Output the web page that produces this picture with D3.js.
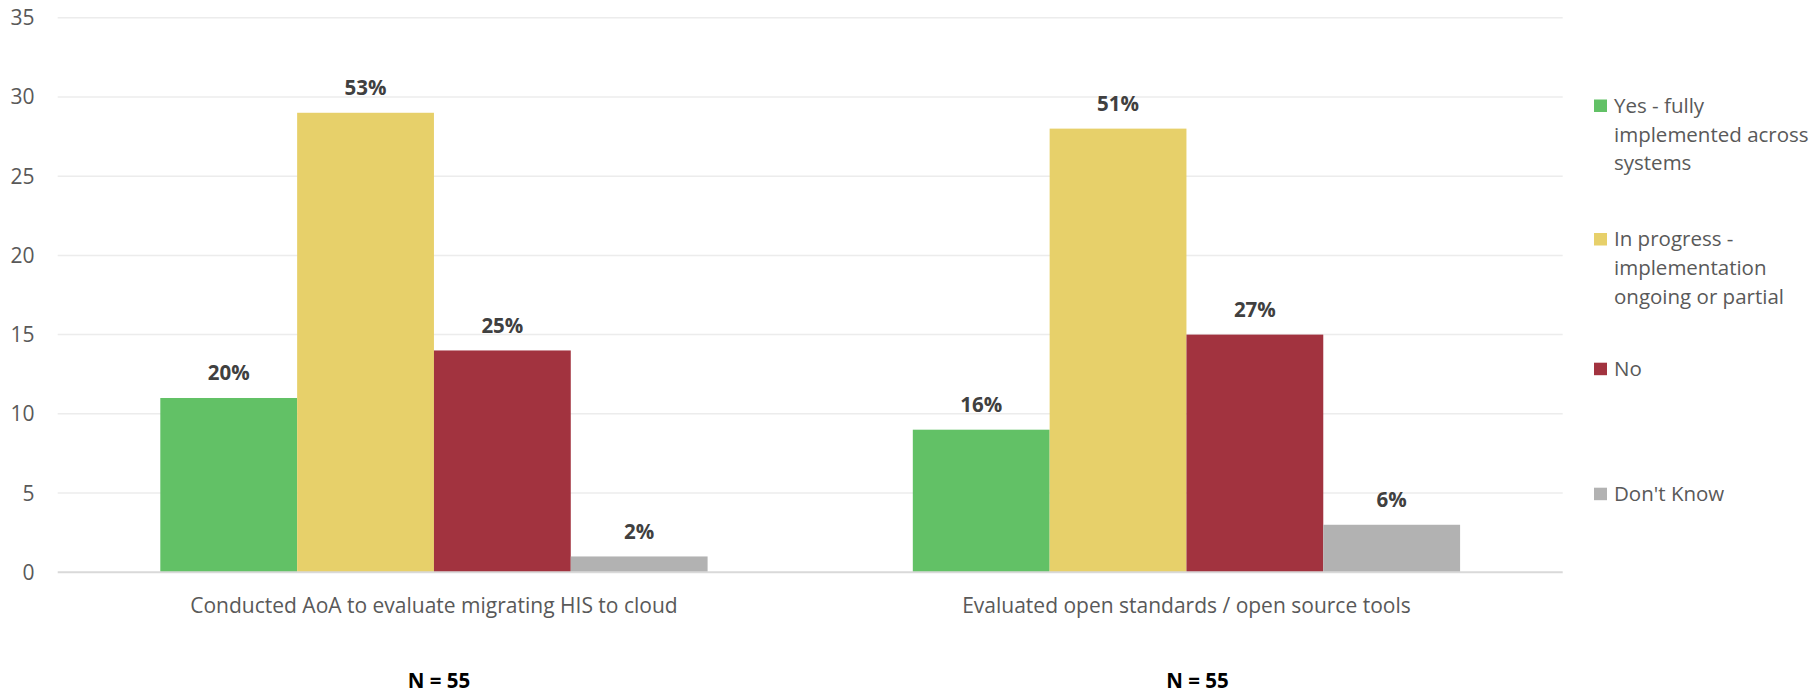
<!DOCTYPE html>
<html>
<head>
<meta charset="utf-8">
<script src="https://cdn.jsdelivr.net/npm/d3@7"></script>
<style>
  html, body { margin: 0; padding: 0; background: #ffffff; }
  svg { display: block; font-family: "Open Sans", "Noto Sans", sans-serif; }
</style>
</head>
<body>
<svg id="chart" width="1816" height="693"></svg>
<script>
// ---- data ----
const categories = ["Conducted AoA to evaluate migrating HIS to cloud", "Evaluated open standards / open source tools"];
const seriesNames = ["Yes - fully implemented across systems", "In progress - implementation ongoing or partial", "No", "Don't Know"];
const legendLines = [["Yes - fully", "implemented across", "systems"], ["In progress -", "implementation", "ongoing or partial"], ["No"], ["Don't Know"]];
const seriesColors = ["#62C166", "#E7D06A", "#A2333F", "#B2B2B2"];
const yesValues = [11, 9];
const progressValues = [29, 28];
const noValues = [14, 15];
const dkValues = [1, 3];
const yesLabels = ["20%", "16%"];
const progressLabels = ["53%", "51%"];
const noLabels = ["25%", "27%"];
const dkLabels = ["2%", "6%"];
const nLabels = ["N = 55", "N = 55"];
const yTicks = [0, 5, 10, 15, 20, 25, 30, 35];

const seriesValues = [yesValues, progressValues, noValues, dkValues];
const seriesLabels = [yesLabels, progressLabels, noLabels, dkLabels];

// ---- layout ----
const svg = d3.select("#chart");
const plot = { left: 57.7, right: 1562.7, top: 17.7, bottom: 572.3 };

const x0 = d3.scaleBand().domain(categories).range([plot.left, plot.right]).paddingInner(0).paddingOuter(0);
// gap width 150%: 0.75 bar-width of padding on each side of a group
const x1 = d3.scaleBand().domain(d3.range(seriesNames.length))
  .range([0, x0.bandwidth()]).paddingInner(0).paddingOuter(0.75);

const y = d3.scaleLinear().domain([0, 35]).range([plot.bottom, plot.top]);

// gridlines
svg.append("g").selectAll("line").data(yTicks.filter(d => d > 0)).join("line")
  .attr("x1", plot.left).attr("x2", plot.right)
  .attr("y1", d => y(d)).attr("y2", d => y(d))
  .attr("stroke", "#ececec").attr("stroke-width", 1.5);

// y tick labels
svg.append("g").selectAll("text").data(yTicks).join("text")
  .attr("x", 34.5).attr("y", d => y(d)).attr("dy", "0.36em")
  .attr("text-anchor", "end").attr("font-size", 21).attr("fill", "#595959")
  .text(d => d);

// bars
const groups = svg.append("g").selectAll("g").data(categories).join("g")
  .attr("transform", c => `translate(${x0(c)},0)`);

groups.each(function(c, ci) {
  const g = d3.select(this);
  seriesValues.forEach((vals, si) => {
    g.append("rect")
      .attr("x", x1(si)).attr("width", x1.bandwidth())
      .attr("y", y(vals[ci])).attr("height", y(0) - y(vals[ci]))
      .attr("fill", seriesColors[si]);
    g.append("text")
      .attr("x", x1(si) + x1.bandwidth() / 2).attr("y", y(vals[ci]) - 17.5)
      .attr("text-anchor", "middle").attr("font-size", 20.5).attr("font-weight", "bold")
      .attr("fill", "#404040").text(seriesLabels[si][ci]);
  });
});

// baseline
svg.append("line").attr("x1", plot.left).attr("x2", plot.right)
  .attr("y1", y(0)).attr("y2", y(0)).attr("stroke", "#d9d9d9").attr("stroke-width", 2);

// category labels
svg.append("g").selectAll("text").data(categories).join("text")
  .attr("x", c => x0(c) + x0.bandwidth() / 2).attr("y", 612.5)
  .attr("text-anchor", "middle").attr("font-size", 21).attr("fill", "#595959")
  .text(c => c);

// N labels
svg.append("g").selectAll("text").data(categories).join("text")
  .attr("x", (c, i) => x0(c) + x0.bandwidth() / 2 + (i === 0 ? 5 : 11)).attr("y", 688)
  .attr("text-anchor", "middle").attr("font-size", 20.5).attr("font-weight", "bold")
  .attr("fill", "#000000").text((c, i) => nLabels[i]);

// legend
const legendTops = [99.5, 233, 362.7, 487.7];
const legend = svg.append("g");
seriesNames.forEach((name, i) => {
  legend.append("rect").attr("x", 1594).attr("y", legendTops[i]).attr("width", 13).attr("height", 12.5)
    .attr("fill", seriesColors[i]);
  const t = legend.append("text").attr("x", 1614).attr("y", legendTops[i] + 13.3)
    .attr("font-size", 20.5).attr("fill", "#595959");
  legendLines[i].forEach((line, li) => {
    t.append("tspan").attr("x", 1614).attr("dy", li === 0 ? 0 : 28.7).text(line);
  });
});
</script>
</body>
</html>
